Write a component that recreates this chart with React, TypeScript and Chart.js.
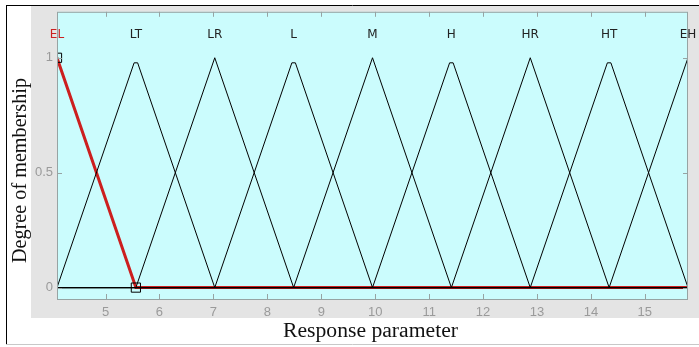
import React, { useEffect, useRef } from "react";
import { Chart, registerables } from "chart.js";

Chart.register(...registerables);

// ---- data ----
const X_MIN = 4.1;
const X_MAX = 15.8;
const Y_MIN = -0.054;
const Y_MAX = 1.2;
const X_TICKS = [5, 6, 7, 8, 9, 10, 11, 12, 13, 14, 15];
const Y_TICKS = [0, 0.5, 1];
const MF_NAMES = ["EL", "LT", "LR", "L", "M", "H", "HR", "HT", "EH"];
const MF_PEAKS = [4.1, 5.5625, 7.025, 8.4875, 9.95, 11.4125, 12.875, 14.3375, 15.8];
const MF_PEAK_HEIGHTS = [1, 0.978, 1, 0.978, 1, 0.978, 1, 0.978, 1];
const MF_PEAK_HALF_WIDTHS = [0, 0.0325, 0, 0.0325, 0, 0.0325, 0, 0.0325, 0];
const SELECTED_MF = 0;
const MF_LABEL_Y = 1.1;
const X_TITLE = "Response parameter";
const Y_TITLE = "Degree of membership";

// ---- styles ----
const CYAN = "#cbfcfd";
const GRAY = "#e4e4e4";
const AXIS_GRAY = "#97a3a3";
const TICK_TEXT = "#9a9a9a";
const RED = "#cc1f1f";

function mfPoints(i: number) {
  const n = MF_PEAKS.length;
  const pts: { x: number; y: number }[] = [];
  if (i > 0) {
    const left = MF_PEAKS[i - 1];
    if (left > X_MIN) pts.push({ x: X_MIN, y: 0 });
    pts.push({ x: left, y: 0 });
  }
  const p = MF_PEAKS[i];
  const h = MF_PEAK_HEIGHTS[i];
  const hw = MF_PEAK_HALF_WIDTHS[i];
  if (hw > 0) {
    pts.push({ x: p - hw, y: h });
    pts.push({ x: p + hw, y: h });
  } else {
    pts.push({ x: p, y: h });
  }
  if (i < n - 1) {
    const right = MF_PEAKS[i + 1];
    pts.push({ x: right, y: 0 });
    if (right < X_MAX) pts.push({ x: X_MAX, y: 0 });
  }
  return pts;
}

const decorPlugin = {
  id: "decor",
  beforeDraw(chart: any) {
    const ctx = chart.ctx;
    const { width, height, chartArea: a } = chart;
    ctx.save();
    ctx.fillStyle = "#ffffff";
    ctx.fillRect(0, 0, width, height);
    ctx.fillStyle = GRAY;
    ctx.fillRect(31, 6, width - 31, 312);
    ctx.strokeStyle = "#000000";
    ctx.lineWidth = 1;
    ctx.beginPath();
    ctx.moveTo(6.5, 5);
    ctx.lineTo(6.5, 345);
    ctx.moveTo(6, 5.5);
    ctx.lineTo(width, 5.5);
    ctx.stroke();
    ctx.strokeStyle = "#c8c8c8";
    ctx.beginPath();
    ctx.moveTo(6, 344.5);
    ctx.lineTo(width, 344.5);
    ctx.stroke();
    ctx.fillStyle = CYAN;
    ctx.fillRect(a.left, a.top, a.right - a.left, a.bottom - a.top);
    ctx.restore();
  },
  afterDraw(chart: any) {
    const ctx = chart.ctx;
    const a = chart.chartArea;
    const xs = chart.scales.x;
    const ys = chart.scales.y;
    ctx.save();
    // plot frame
    ctx.strokeStyle = AXIS_GRAY;
    ctx.lineWidth = 1;
    ctx.strokeRect(a.left + 0.5, a.top + 0.5, a.right - a.left - 1, a.bottom - a.top - 1);
    // inward ticks
    ctx.beginPath();
    const tl = 5;
    X_TICKS.forEach((v) => {
      const px = Math.round(xs.getPixelForValue(v)) + 0.5;
      ctx.moveTo(px, a.bottom);
      ctx.lineTo(px, a.bottom - tl - 1);
      ctx.moveTo(px, a.top);
      ctx.lineTo(px, a.top + tl);
    });
    Y_TICKS.forEach((v) => {
      const py = Math.round(ys.getPixelForValue(v)) + 0.5;
      ctx.moveTo(a.left, py);
      ctx.lineTo(a.left + tl, py);
      ctx.moveTo(a.right, py);
      ctx.lineTo(a.right - tl, py);
    });
    ctx.stroke();
    // MF names
    ctx.font = '12px "DejaVu Sans"';
    ctx.textAlign = "center";
    ctx.textBaseline = "middle";
    const ly = ys.getPixelForValue(MF_LABEL_Y);
    MF_NAMES.forEach((name, i) => {
      ctx.fillStyle = i === SELECTED_MF ? RED : "#222222";
      ctx.fillText(name, xs.getPixelForValue(MF_PEAKS[i]), ly);
    });
    // axis titles
    ctx.fillStyle = "#111111";
    ctx.font = '20px "Liberation Serif"';
    ctx.textAlign = "center";
    ctx.textBaseline = "alphabetic";
    const xw = ctx.measureText(X_TITLE).width;
    ctx.save();
    ctx.translate(370.5, 337);
    ctx.scale(175 / xw, 1);
    ctx.fillText(X_TITLE, 0, 0);
    ctx.restore();
    const yw = ctx.measureText(Y_TITLE).width;
    ctx.save();
    ctx.translate(25.5, 170.5);
    ctx.rotate(-Math.PI / 2);
    ctx.scale(185 / yw, 1);
    ctx.fillText(Y_TITLE, 0, 0);
    ctx.restore();
    ctx.restore();
  },
};

export default function App() {
  const ref = useRef<HTMLCanvasElement | null>(null);
  useEffect(() => {
    document.body.style.margin = "0";
    const datasets = MF_NAMES.map((name, i) => {
      const pts = mfPoints(i);
      const sel = i === SELECTED_MF;
      return {
        label: name,
        data: pts,
        showLine: true,
        borderColor: sel ? RED : "#000000",
        borderWidth: sel ? 3 : 1,
        pointRadius: sel ? pts.map((_, k) => (k < 2 ? 6.5 : 0)) : 0,
        pointStyle: "rect",
        pointBorderColor: "#000000",
        pointBackgroundColor: "rgba(0,0,0,0)",
        pointBorderWidth: 1,
        order: sel ? 1 : 0,
        tension: 0,
      };
    });
    const chart = new Chart(ref.current as HTMLCanvasElement, {
      type: "scatter",
      data: { datasets } as any,
      options: {
        responsive: false,
        animation: false,
        devicePixelRatio: 1,
        layout: { padding: { top: 11, right: 11, left: 0, bottom: 0 } },
        plugins: { legend: { display: false }, tooltip: { enabled: false } },
        scales: {
          x: {
            type: "linear",
            position: "bottom",
            min: X_MIN,
            max: X_MAX,
            grid: { display: false, drawTicks: false },
            border: { display: false },
            ticks: {
              color: TICK_TEXT,
              font: { family: "Liberation Sans", size: 13 },
              padding: 5,
              maxRotation: 0,
              autoSkip: false,
              callback: (v: any) => String(v),
            },
            afterBuildTicks(s: any) {
              s.ticks = X_TICKS.map((v) => ({ value: v }));
            },
            afterFit(s: any) {
              s.height = 47;
            },
          },
          y: {
            type: "linear",
            position: "left",
            min: Y_MIN,
            max: Y_MAX,
            grid: { display: false, drawTicks: false },
            border: { display: false },
            ticks: {
              color: TICK_TEXT,
              font: { family: "Liberation Sans", size: 13 },
              padding: 4,
              autoSkip: false,
              callback: (v: any) => String(v),
            },
            afterBuildTicks(s: any) {
              s.ticks = Y_TICKS.map((v) => ({ value: v }));
            },
            afterFit(s: any) {
              s.width = 57;
            },
          },
        },
      } as any,
      plugins: [decorPlugin],
    });
    return () => chart.destroy();
  }, []);
  return (
    <canvas
      ref={ref}
      width={699}
      height={347}
      style={{ display: "block", width: 699, height: 347 }}
    />
  );
}
